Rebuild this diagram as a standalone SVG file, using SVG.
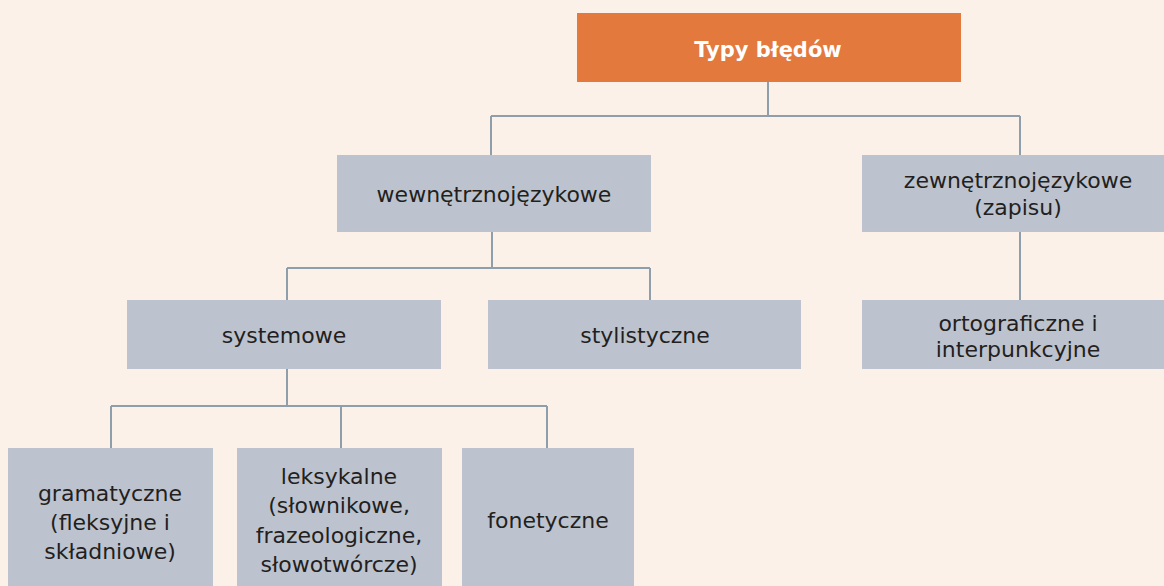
<svg xmlns="http://www.w3.org/2000/svg" width="1164" height="586" viewBox="0 0 1164 586">
<style>
.box{fill:#BDC3CE}
.t{font-family:"DejaVu Sans","Open Sans",sans-serif;font-size:22px;fill:#231F20;text-anchor:middle}
.h{font-family:"DejaVu Sans","Open Sans",sans-serif;font-size:21px;font-weight:bold;fill:#FFFFFF;text-anchor:middle}
.c{fill:none;stroke:#8E9EAB;stroke-width:2}
</style>
<rect width="1164" height="586" fill="#FCF1E9"/>
<g id="connectors">
<path class="c" d="M768 82V116M491 116H1020M491 116V155M1020 116V155"/>
<path class="c" d="M492 232V268M287 268H650M287 268V300M650 268V300"/>
<path class="c" d="M1020 232V300"/>
<path class="c" d="M287 369V406M111 406H547M111 406V448M341 406V448M547 406V448"/>
</g>
<g id="root"><rect x="577" y="13" width="384" height="69" fill="#E3793C"/><text class="h" x="768" y="57">Typy błędów</text></g>
<g id="wewn"><rect class="box" x="337" y="155" width="314" height="77"/><text class="t" x="494" y="202">wewnętrznojęzykowe</text></g>
<g id="zewn"><rect class="box" x="862" y="155" width="302" height="77"/><text class="t" x="1018" y="188">zewnętrznojęzykowe</text><text class="t" x="1018" y="215">(zapisu)</text></g>
<g id="systemowe"><rect class="box" x="127" y="300" width="314" height="69"/><text class="t" x="284" y="343">systemowe</text></g>
<g id="stylistyczne"><rect class="box" x="488" y="300" width="313" height="69"/><text class="t" x="645" y="343">stylistyczne</text></g>
<g id="orto"><rect class="box" x="862" y="300" width="302" height="69"/><text class="t" x="1018" y="331">ortograficzne i</text><text class="t" x="1018" y="357">interpunkcyjne</text></g>
<g id="gram"><rect class="box" x="8" y="448" width="205" height="138"/><text class="t" x="110" y="501">gramatyczne</text><text class="t" x="110" y="530">(fleksyjne i</text><text class="t" x="110" y="559">składniowe)</text></g>
<g id="leks"><rect class="box" x="237" y="448" width="205" height="138"/><text class="t" x="339" y="484">leksykalne</text><text class="t" x="339" y="513">(słownikowe,</text><text class="t" x="339" y="543">frazeologiczne,</text><text class="t" x="339" y="572">słowotwórcze)</text></g>
<g id="fon"><rect class="box" x="462" y="448" width="172" height="138"/><text class="t" x="548" y="528">fonetyczne</text></g>
</svg>
